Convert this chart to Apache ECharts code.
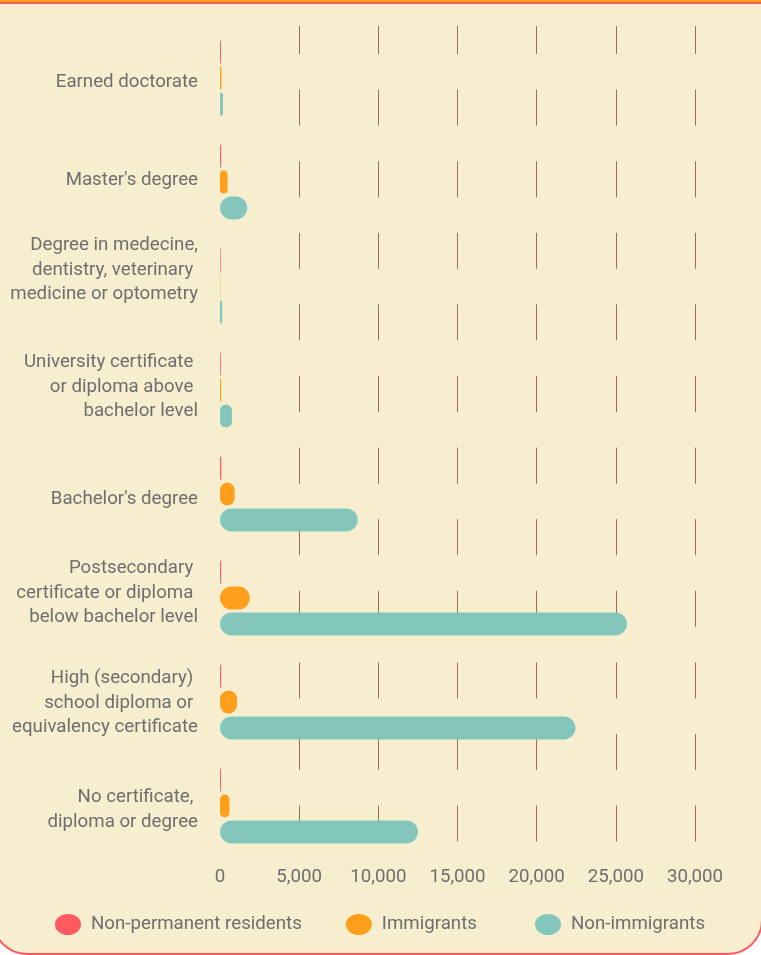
<!DOCTYPE html>
<html>
<head>
<meta charset="utf-8">
<script src="https://cdn.jsdelivr.net/npm/echarts@6/dist/echarts.min.js"></script>
<style>
  html, body {
    margin: 0;
    padding: 0;
    width: 761px;
    height: 955px;
    overflow: hidden;
    background: #ffffff;
  }
  .topbar {
    position: absolute;
    left: 0;
    top: 0;
    width: 761px;
    height: 2px;
    background: #ff9f1c;
  }
  .card {
    position: absolute;
    left: -8px;
    top: 2px;
    width: 767px;
    height: 949px;
    background: #f7eecf;
    border: 2.5px solid #ff5a5f;
    border-radius: 0 0 35px 35px;
  }
  #chart {
    position: absolute;
    left: 0;
    top: 0;
    width: 761px;
    height: 955px;
  }
</style>
</head>
<body>
<div class="topbar"></div>
<div class="card"></div>
<div id="chart"></div>
<script>
// categories, top to bottom
const categories = [
  'Earned doctorate',
  "Master's degree",
  'Degree in medecine,\ndentistry, veterinary \nmedicine or optometry',
  'University certificate \nor diploma above \nbachelor level',
  "Bachelor's degree",
  'Postsecondary \ncertificate or diploma \nbelow bachelor level',
  'High (secondary) \nschool diploma or \nequivalency certificate',
  'No certificate, \ndiploma or degree'
]

const seriesNames = ['Non-permanent residents', 'Immigrants', 'Non-immigrants']

const nonPermanentResidents = [60, 70, 40, 50, 80, 70, 70, 60]
const immigrants = [90, 480, 20, 70, 930, 1880, 1080, 600]
const nonImmigrants = [190, 1720, 140, 760, 8700, 25700, 22450, 12500]

const colors = ['#ff5a5f', '#ff9f1c', '#83c7bc']
const textColor = '#6e6e6e'
const font = 'Roboto, sans-serif'
const fontSize = 18.7

// small vertical nudges of the category labels (px, + is down)
const labelShift = [4, -2, -16, -3, 5, -5, 1, 4]

const chart = echarts.init(document.getElementById('chart'))

const makeBar = (name, data, color) => ({
  name: name,
  type: 'bar',
  data: data,
  barWidth: 23,
  barGap: '13%',
  itemStyle: {
    color: color,
    borderRadius: 12
  }
})

// spacer lines used to nudge each label up or down
const spacerRich = {}
labelShift.forEach((s, i) => {
  spacerRich['p' + i] = { height: Math.abs(s) * 2, lineHeight: Math.abs(s) * 2, fontSize: 1 }
})

// ellipse legend marker
const ellipse = 'path://M0,10.5A13,10.5 0 1,0 26,10.5A13,10.5 0 1,0 0,10.5Z'

const legendBase = {
  top: 909,
  itemWidth: 26,
  itemHeight: 21,
  itemGap: 44,
  textStyle: {
    color: textColor,
    fontSize: fontSize,
    fontFamily: font,
    padding: [0, 0, 0, 5]
  }
}

const legendItem = i => ({ name: seriesNames[i], icon: ellipse, itemStyle: { color: colors[i] } })

const option = {
  animation: false,
  textStyle: { fontFamily: font },
  grid: {
    left: 220,
    right: 66,
    top: 26,
    bottom: 97,
    containLabel: false
  },
  legend: [
    Object.assign({}, legendBase, { left: 50, data: [legendItem(0), legendItem(1)] }),
    Object.assign({}, legendBase, { left: 530, data: [legendItem(2)] })
  ],
  xAxis: {
    type: 'value',
    min: 0,
    max: 30000,
    interval: 5000,
    axisLine: { show: false },
    axisTick: { show: false },
    axisLabel: {
      color: textColor,
      fontSize: fontSize,
      fontFamily: font,
      margin: 10,
      formatter: v => v.toLocaleString('en-US')
    },
    splitLine: {
      show: true,
      showMinLine: false,
      lineStyle: {
        color: '#9a6a5a',
        width: 1,
        type: [36, 35.6],
        dashOffset: 8
      }
    }
  },
  yAxis: {
    type: 'category',
    data: categories,
    inverse: true,
    axisLine: { show: false },
    axisTick: { show: false },
    axisLabel: {
      color: textColor,
      fontSize: fontSize,
      fontFamily: font,
      lineHeight: 24.5,
      margin: 22,
      align: 'right',
      formatter: (value, index) => {
        const s = labelShift[index]
        if (!s) return value
        const pad = '{p' + index + '| }'
        return s > 0 ? pad + '\n' + value : value + '\n' + pad
      },
      rich: spacerRich
    }
  },
  series: [
    makeBar(seriesNames[0], nonPermanentResidents, colors[0]),
    makeBar(seriesNames[1], immigrants, colors[1]),
    makeBar(seriesNames[2], nonImmigrants, colors[2])
  ]
}

chart.setOption(option)
</script>
</body>
</html>
